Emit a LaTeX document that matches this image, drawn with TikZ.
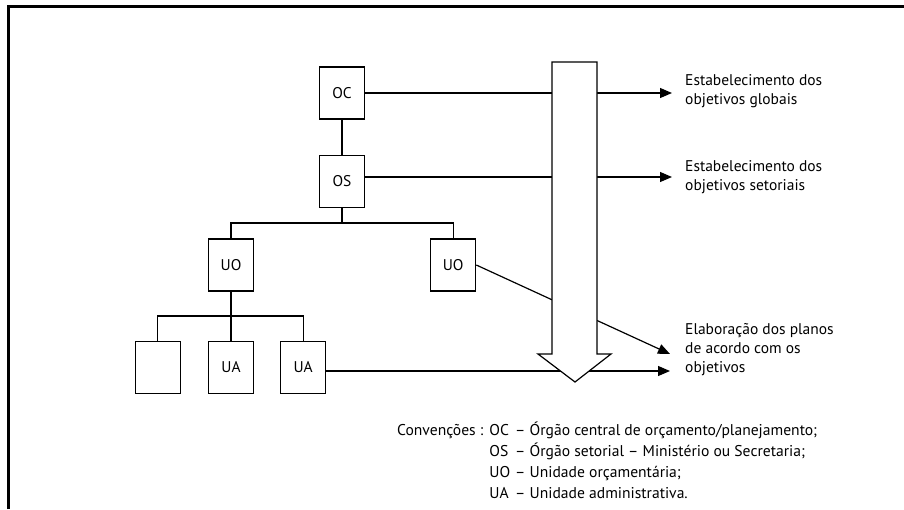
\documentclass[tikz,border=0pt]{standalone}
\usepackage{fontspec}
\setmainfont{PT Sans}
\usetikzlibrary{arrows.meta,positioning}
\newcommand{\diagfont}{\fontsize{15.5}{19}\selectfont}
\newcommand{\legendfont}{\fontsize{15.6}{21}\selectfont}

\begin{document}
\begin{tikzpicture}[
    x=1pt, y=-1pt,
    unit/.style={rectangle, draw, line width=1.2pt, minimum width=45pt, minimum height=52pt, inner sep=0pt, font=\diagfont},
    arrow/.style={-{Triangle[length=12pt,width=10pt]}, line width=1.2pt},
    link/.style={line width=1.2pt},
    goal/.style={anchor=west, align=left, inner sep=0pt, font=\diagfont}
]
\useasboundingbox (0,0) rectangle (904,509);
% frame
\draw[line width=3pt] (8,509) -- (8,6) -- (904,6);

% hierarchy
\node[unit] (oc) at (342,93) {OC};
\node[unit, below=35pt of oc] (os) {OS};
\node[unit] (uo1) at (231,265) {UO};
\node[unit, right=176pt of uo1] (uo2) {UO};
\node[unit, below=49pt of uo1] (ua1) {UA};
\node[unit, left=27pt of ua1] (blank) {};
\node[unit, right=26pt of ua1] (ua2) {UA};

\coordinate (split1) at (342,223);
\coordinate (split2) at (231,316);
\draw[link] (oc) -- (os);
\draw[link] (os) -- (split1);
\draw[link] (uo1) |- (split1) -| (uo2);
\draw[link] (uo1) -- (ua1);
\draw[link] (blank) |- (split2) -| (ua2);

% results
\node[goal] (glob) at (685,91) {Estabelecimento dos\\objetivos globais};
\node[goal] (seto) at (685,177) {Estabelecimento dos\\objetivos setoriais};
\node[goal] (plans) at (685,350) {Elaboração dos planos\\de acordo com os\\objetivos};

\coordinate (globin) at (672,93);
\coordinate (setoin) at (672,177);
\coordinate (planin) at (670,354);
\coordinate (uain) at (670,371);

\draw[arrow] (oc) -- (globin);
\draw[arrow] (os.east |- setoin) -- (setoin);
\draw[arrow] (uo2.east) -- (planin);
\draw[arrow] (ua2.east |- uain) -- (uain);

% process arrow
\draw[line width=1.2pt, fill=white] (552,62) -- (597,62) -- (597,354) -- (611,354)
    -- (575,382) -- (538,354) -- (552,354) -- cycle;

% conventions
\node[anchor=north west, inner sep=0pt, font=\legendfont] (legend) at (397,421) {%
  \begin{tabular}{@{}l@{\hspace{6pt}}l@{\hspace{5pt}}l@{}}
  Convenções : & OC & – Órgão central de orçamento/planejamento;\\
   & OS & – Órgão setorial – Ministério ou Secretaria;\\
   & UO & – Unidade orçamentária;\\
   & UA & – Unidade administrativa.
  \end{tabular}};
\end{tikzpicture}
\end{document}
